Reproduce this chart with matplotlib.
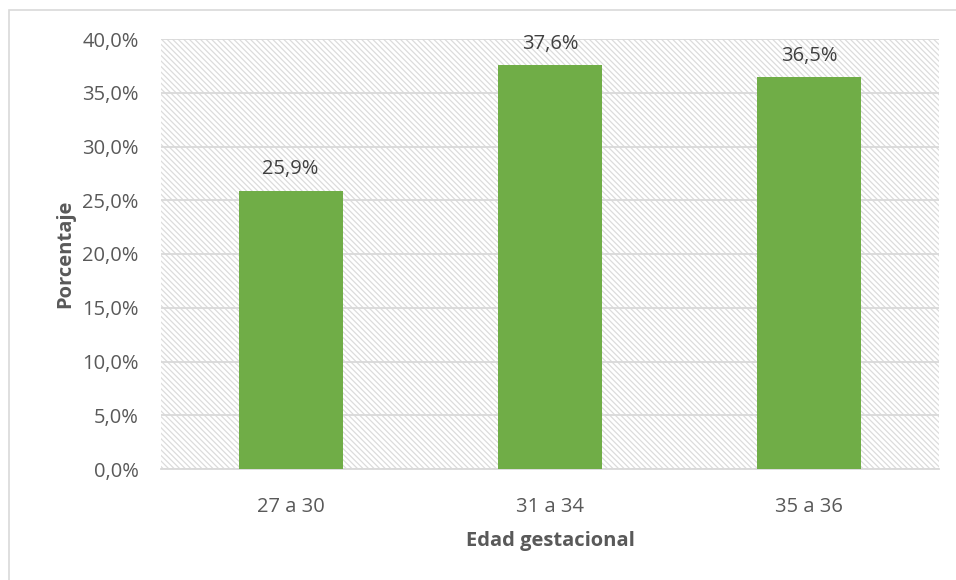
import matplotlib.pyplot as plt
from matplotlib.patches import Rectangle
from matplotlib.ticker import FuncFormatter

# datos
categorias = ['27 a 30', '31 a 34', '35 a 36']
porcentajes = [25.9, 37.6, 36.5]
etiquetas = ['25,9%', '37,6%', '36,5%']

plt.rcParams['font.family'] = ['Open Sans', 'DejaVu Sans']
plt.rcParams['hatch.color'] = '#DCDCDC'
plt.rcParams['hatch.linewidth'] = 0.9

gris_texto = '#595959'
tam = 14.5

fig = plt.figure(figsize=(9.56, 5.8), dpi=100)
ax = fig.add_axes([161 / 956, 1 - 469 / 580, 778 / 956, 430 / 580])

# marco del area del grafico (solo se ve arriba y a la izquierda)
fig.patches.append(Rectangle((9 / 956, -0.2), 1.2, 1.2 - 10 / 580,
                             transform=fig.transFigure, fill=False,
                             edgecolor='#D9D9D9', linewidth=1.2))

# fondo rayado
ax.add_patch(Rectangle((0, 0), 1, 1, transform=ax.transAxes, facecolor='white',
                       edgecolor='#DCDCDC', hatch='\\' * 6, linewidth=0, zorder=0))

x = range(len(categorias))
ax.bar(x, porcentajes, width=0.4, color='#70AD47', zorder=3)

for xi, v, t in zip(x, porcentajes, etiquetas):
    ax.annotate(t, (xi, v), xytext=(0, 8), textcoords='offset points',
                ha='center', va='bottom', fontsize=tam, color='#404040')

ax.set_xlim(-0.5, 2.5)
ax.set_ylim(0, 40)
ax.set_yticks(range(0, 41, 5))
ax.yaxis.set_major_formatter(FuncFormatter(lambda v, p: f'{v:.1f}%'.replace('.', ',')))
ax.set_xticks(list(x))
ax.set_xticklabels(categorias)

ax.grid(axis='y', color='#D9D9D9', linewidth=1.3, zorder=1)
ax.set_axisbelow(True)
for s in ['top', 'right', 'left']:
    ax.spines[s].set_visible(False)
ax.spines['bottom'].set_color('#D9D9D9')
ax.spines['bottom'].set_linewidth(1.3)

ax.tick_params(axis='both', length=0, labelsize=tam, labelcolor=gris_texto)
ax.tick_params(axis='y', pad=16)
ax.tick_params(axis='x', pad=20)

ax.set_ylabel('Porcentaje', fontsize=tam, fontweight='bold', color=gris_texto, labelpad=5)
ax.set_xlabel('Edad gestacional', fontsize=tam, fontweight='bold', color=gris_texto, labelpad=10)

fig.savefig('out.png', dpi=100)
